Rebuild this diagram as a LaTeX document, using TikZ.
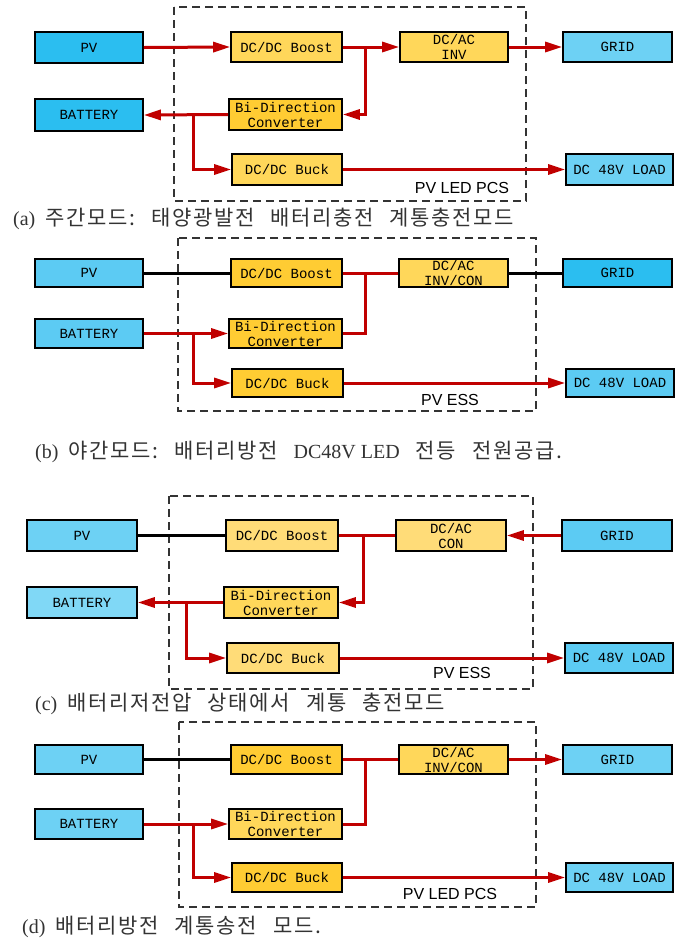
\documentclass[tikz,border=0pt]{standalone}
\usepackage{fontspec}
\setmainfont{Liberation Serif}
\newfontfamily\boxfont{Liberation Mono}
\newfontfamily\labfont{Liberation Sans}
\newfontfamily\kr[LetterSpace=8]{Noto Sans CJK KR}
\usetikzlibrary{arrows.meta}
\definecolor{redl}{HTML}{C00000}
\definecolor{bluedeep}{HTML}{2BBEF0}
\definecolor{bluemid}{HTML}{5CCBF3}
\definecolor{bluelight}{HTML}{6DD1F4}
\definecolor{bluepale}{HTML}{80D8F6}
\definecolor{yelA}{HTML}{FFD75A}
\definecolor{yelB}{HTML}{FFCC33}
\definecolor{yelC}{HTML}{FFDC78}
\definecolor{capgray}{HTML}{333333}
\tikzset{
  blk/.style={draw=black, line width=1.6pt, inner sep=0pt, font=\boxfont\fontsize{14}{15}\selectfont, align=center},
  rline/.style={draw=redl, line width=3pt},
  rarrow/.style={draw=redl, line width=3pt, -{Triangle[length=17pt,width=10pt]}},
  kline/.style={draw=black, line width=3pt},
  pcsframe/.style={draw=black!80, line width=1.4pt, dash pattern=on 8pt off 5pt},
  lab/.style={font=\labfont\fontsize{16}{16}\selectfont, inner sep=0pt},
  captxt/.style={anchor=west, inner sep=0pt, text=capgray, font=\fontsize{20}{20}\selectfont}
}
\newcommand{\bx}[6]{% name, x1, y1, x2, y2, fill
  \node[blk, fill=#6, minimum width={#4pt-#2pt}, minimum height={#5pt-#3pt}] (#1) at ({(#2+#4)/2},{(#3+#5)/2})}
\newcommand{\gp}{\hspace{16pt}}
\newcommand{\gl}{\hspace{10pt}}
\newcommand{\K}[1]{{\kr\fontsize{21}{21}\selectfont #1}}
\begin{document}
\begin{tikzpicture}[x=1pt,y=-1pt]
\useasboundingbox (0,0) rectangle (686,938);
\fill[white] (0,0) rectangle (686,938);

% ================= (a)
\draw[pcsframe] (174,7) rectangle (526,201);
\bx{pvA}{35}{32}{143}{63}{bluedeep} {PV};
\bx{batA}{35}{99}{143}{131}{bluedeep} {BATTERY};
\bx{boostA}{231}{32}{342}{62}{yelA} {DC/DC Boost};
\bx{biA}{229}{99}{342}{130}{yelB} {Bi-Direction\\Converter};
\bx{buckA}{232}{154}{342}{185}{yelA} {DC/DC Buck};
\bx{invA}{400}{32}{508}{62}{yelA} {DC/AC\\INV};
\bx{gridA}{563}{32}{672}{62}{bluelight} {GRID};
\bx{loadA}{566}{154}{673}{185}{bluelight} {DC 48V LOAD};
\node[lab] (pcsA) at (462,188) {PV LED PCS};
\coordinate (jA) at (365,47);
\coordinate (kA) at (193,115);
\draw[rarrow] (pvA.east) -- (boostA.west);
\draw[rarrow] (boostA.east) -- (invA.west);
\draw[rarrow] (invA.east) -- (gridA.west);
\draw[rarrow] (jA) |- (biA.east);
\draw[rarrow] (biA.west) -- (batA.east);
\draw[rarrow] (kA) |- (buckA.west);
\draw[rarrow] (buckA.east) -- (loadA.west);
\node[captxt] (capA) at (13,219) {(a)\gl\K{주간모드:}\gp\K{태양광발전}\gp\K{배터리충전}\gp\K{계통충전모드}};

% ================= (b)
\draw[pcsframe] (178,238) rectangle (536,411);
\bx{pvB}{35}{259}{143}{287}{bluemid} {PV};
\bx{batB}{35}{319}{143}{348}{bluemid} {BATTERY};
\bx{boostB}{231}{259}{342}{287}{yelB} {DC/DC Boost};
\bx{biB}{229}{319}{342}{348}{yelB} {Bi-Direction\\Converter};
\bx{buckB}{232}{369}{343}{397}{yelB} {DC/DC Buck};
\bx{invB}{399}{259}{508}{287}{yelA} {DC/AC\\INV/CON};
\bx{gridB}{563}{259}{672}{287}{bluedeep} {GRID};
\bx{loadB}{566}{369}{674}{397}{bluemid} {DC 48V LOAD};
\node[lab] (pcsB) at (450,400) {PV ESS};
\coordinate (jB) at (365,273);
\coordinate (kB) at (193,333.5);
\draw[kline] (pvB.east) -- (boostB.west);
\draw[kline] (invB.east) -- (gridB.west);
\draw[rline] (boostB.east) -- (invB.west);
\draw[rline] (jB) |- (biB.east);
\draw[rarrow] (batB.east) -- (biB.west);
\draw[rarrow] (kB) |- (buckB.west);
\draw[rarrow] (buckB.east) -- (loadB.west);
\node[captxt] (capB) at (35,452) {(b)\gl\K{야간모드:}\gp\K{배터리방전}\gp DC48V LED\gp\K{전등}\gp\K{전원공급.}};

% ================= (c)
\draw[pcsframe] (169,496) rectangle (533,689);
\bx{pvC}{27}{520}{137}{551}{bluelight} {PV};
\bx{batC}{27}{587}{137}{618}{bluepale} {BATTERY};
\bx{boostC}{226}{520}{338}{551}{yelC} {DC/DC Boost};
\bx{biC}{224}{587}{338}{618}{yelA} {Bi-Direction\\Converter};
\bx{buckC}{227}{643}{339}{673}{yelC} {DC/DC Buck};
\bx{conC}{396}{520}{506}{551}{yelC} {DC/AC\\CON};
\bx{gridC}{562}{520}{672}{551}{bluemid} {GRID};
\bx{loadC}{565}{643}{673}{673}{bluemid} {DC 48V LOAD};
\node[lab] (pcsC) at (462,673) {PV ESS};
\coordinate (jC) at (363,535.5);
\coordinate (kC) at (186,602.5);
\draw[kline] (pvC.east) -- (boostC.west);
\draw[rarrow] (gridC.west) -- (conC.east);
\draw[rline] (boostC.east) -- (conC.west);
\draw[rarrow] (jC) |- (biC.east);
\draw[rarrow] (biC.west) -- (batC.east);
\draw[rarrow] (kC) |- (buckC.west);
\draw[rarrow] (buckC.east) -- (loadC.west);
\node[captxt] (capC) at (35,704) {(c)\gl\K{배터리저전압}\gp\K{상태에서}\gp\K{계통}\gp\K{충전모드}};

% ================= (d)
\draw[pcsframe] (179,722) rectangle (536,907);
\bx{pvD}{35}{745}{143}{774}{bluelight} {PV};
\bx{batD}{35}{809}{143}{839}{bluelight} {BATTERY};
\bx{boostD}{231}{745}{342}{774}{yelB} {DC/DC Boost};
\bx{biD}{229}{809}{342}{839}{yelA} {Bi-Direction\\Converter};
\bx{buckD}{232}{863}{342}{892}{yelB} {DC/DC Buck};
\bx{invD}{399}{745}{508}{774}{yelA} {DC/AC\\INV/CON};
\bx{gridD}{563}{745}{672}{774}{bluelight} {GRID};
\bx{loadD}{566}{863}{673}{892}{bluelight} {DC 48V LOAD};
\node[lab] (pcsD) at (450,894) {PV LED PCS};
\coordinate (jD) at (365,759.5);
\coordinate (kD) at (193,824);
\draw[kline] (pvD.east) -- (boostD.west);
\draw[rline] (boostD.east) -- (invD.west);
\draw[rarrow] (invD.east) -- (gridD.west);
\draw[rline] (jD) |- (biD.east);
\draw[rarrow] (batD.east) -- (biD.west);
\draw[rarrow] (kD) |- (buckD.west);
\draw[rarrow] (buckD.east) -- (loadD.west);
\node[captxt] (capD) at (22,927) {(d)\gl\K{배터리방전}\gp\K{계통송전}\gp\K{모드.}};
\end{tikzpicture}
\end{document}
